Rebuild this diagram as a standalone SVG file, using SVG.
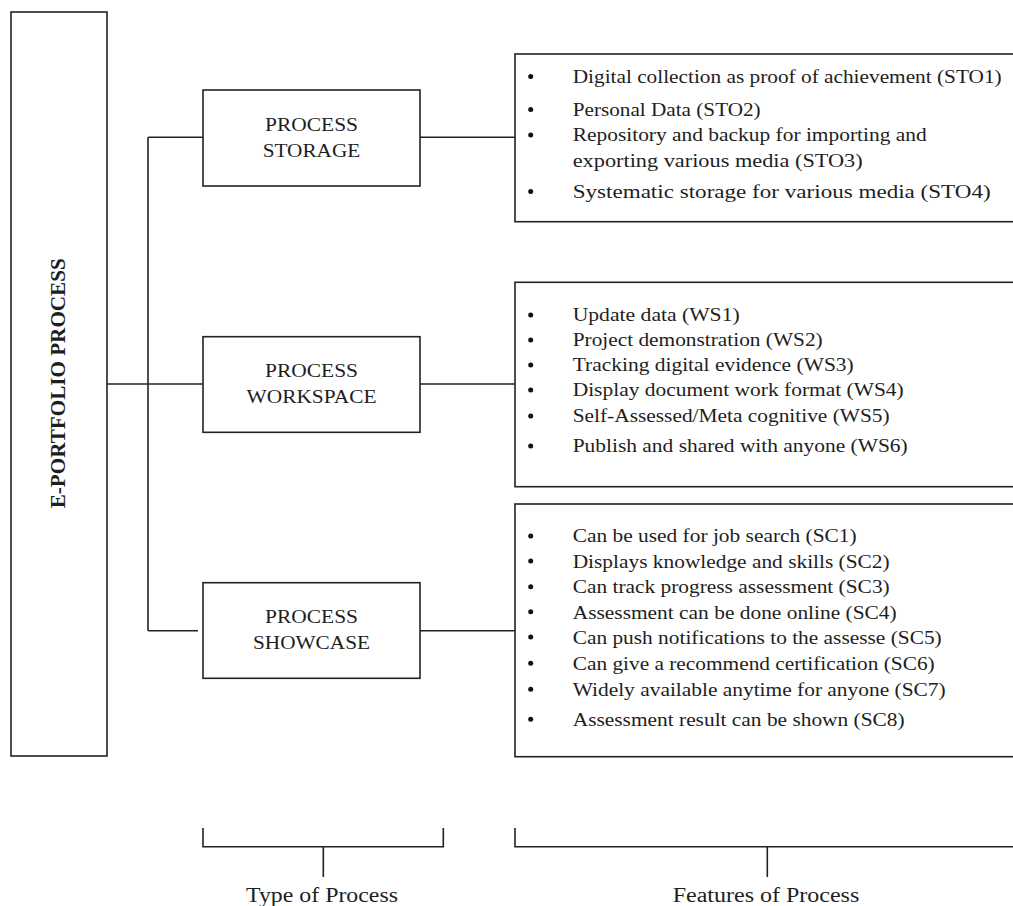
<svg xmlns="http://www.w3.org/2000/svg" width="1013" height="906" viewBox="0 0 1013 906">
  <style>
    .box { fill: #ffffff; stroke: #222222; stroke-width: 1.6; }
    .ln { fill: none; stroke: #222222; stroke-width: 1.6; }
    .lbl { font-family: "Liberation Serif", "DejaVu Serif", serif; font-size: 19px; fill: #1e1e1e; text-anchor: middle; }
    .li { font-family: "Liberation Serif", "DejaVu Serif", serif; font-size: 18px; fill: #1e1e1e; }
    .main { font-family: "Liberation Serif", "DejaVu Serif", serif; font-size: 20px; font-weight: bold; fill: #1e1e1e; text-anchor: middle; }
    .cap { font-family: "Liberation Serif", "DejaVu Serif", serif; font-size: 20px; fill: #1e1e1e; }
    .dot { fill: #111111; }
  </style>

  <g id="connectors">
    <path class="ln" d="M107,384 H203"/>
    <path class="ln" d="M148,137.3 V630.7"/>
    <path class="ln" d="M148,137.3 H203"/>
    <path class="ln" d="M148,630.7 H198"/>
    <path class="ln" d="M420,137.3 H515"/>
    <path class="ln" d="M420,384 H515"/>
    <path class="ln" d="M420,630.7 H515"/>
  </g>

  <g id="node-eportfolio">
    <rect class="box" x="11" y="12" width="96" height="744"/>
    <text class="main" transform="translate(64.5,383.3) rotate(-90)" x="0" y="0" textLength="250" lengthAdjust="spacingAndGlyphs">E-PORTFOLIO PROCESS</text>
  </g>

  <g id="node-storage">
    <rect class="box" x="203" y="90" width="217" height="96"/>
    <text class="lbl" x="311.5" y="131" textLength="93" lengthAdjust="spacingAndGlyphs">PROCESS</text>
    <text class="lbl" x="311.5" y="157" textLength="97.6" lengthAdjust="spacingAndGlyphs">STORAGE</text>
  </g>

  <g id="node-workspace">
    <rect class="box" x="203" y="336.7" width="217" height="95.6"/>
    <text class="lbl" x="311.5" y="377.3" textLength="93" lengthAdjust="spacingAndGlyphs">PROCESS</text>
    <text class="lbl" x="311.5" y="402.7" textLength="130" lengthAdjust="spacingAndGlyphs">WORKSPACE</text>
  </g>

  <g id="node-showcase">
    <rect class="box" x="203" y="582.7" width="217" height="95.6"/>
    <text class="lbl" x="311.5" y="623.3" textLength="93" lengthAdjust="spacingAndGlyphs">PROCESS</text>
    <text class="lbl" x="311.5" y="649.3" textLength="117" lengthAdjust="spacingAndGlyphs">SHOWCASE</text>
  </g>

  <g id="node-storage-features">
    <rect class="box" x="515" y="54" width="520" height="167.7"/>
    <circle class="dot" cx="530.7" cy="76.5" r="2.5"/>
    <circle class="dot" cx="530.7" cy="109.5" r="2.5"/>
    <circle class="dot" cx="530.7" cy="135" r="2.5"/>
    <circle class="dot" cx="530.7" cy="191.5" r="2.5"/>
    <text class="li" x="572.7" y="83" textLength="429" lengthAdjust="spacingAndGlyphs">Digital collection as proof of achievement (STO1)</text>
    <text class="li" x="572.7" y="115.5" textLength="188" lengthAdjust="spacingAndGlyphs">Personal Data (STO2)</text>
    <text class="li" x="572.7" y="141" textLength="354" lengthAdjust="spacingAndGlyphs">Repository and backup for importing and</text>
    <text class="li" x="572.7" y="167" textLength="290" lengthAdjust="spacingAndGlyphs">exporting various media (STO3)</text>
    <text class="li" x="572.7" y="197.5" textLength="418" lengthAdjust="spacingAndGlyphs">Systematic storage for various media (STO4)</text>
  </g>

  <g id="node-workspace-features">
    <rect class="box" x="515" y="282.3" width="520" height="204.4"/>
    <circle class="dot" cx="530.7" cy="315" r="2.5"/>
    <circle class="dot" cx="530.7" cy="340" r="2.5"/>
    <circle class="dot" cx="530.7" cy="365" r="2.5"/>
    <circle class="dot" cx="530.7" cy="390" r="2.5"/>
    <circle class="dot" cx="530.7" cy="416" r="2.5"/>
    <circle class="dot" cx="530.7" cy="446" r="2.5"/>
    <text class="li" x="572.7" y="321" textLength="167" lengthAdjust="spacingAndGlyphs">Update data (WS1)</text>
    <text class="li" x="572.7" y="346" textLength="250" lengthAdjust="spacingAndGlyphs">Project demonstration (WS2)</text>
    <text class="li" x="572.7" y="371" textLength="281" lengthAdjust="spacingAndGlyphs">Tracking digital evidence (WS3)</text>
    <text class="li" x="572.7" y="396" textLength="331" lengthAdjust="spacingAndGlyphs">Display document work format (WS4)</text>
    <text class="li" x="572.7" y="422" textLength="317" lengthAdjust="spacingAndGlyphs">Self-Assessed/Meta cognitive (WS5)</text>
    <text class="li" x="572.7" y="452" textLength="335" lengthAdjust="spacingAndGlyphs">Publish and shared with anyone (WS6)</text>
  </g>

  <g id="node-showcase-features">
    <rect class="box" x="515" y="504" width="520" height="252.7"/>
    <circle class="dot" cx="530.7" cy="536" r="2.5"/>
    <circle class="dot" cx="530.7" cy="561" r="2.5"/>
    <circle class="dot" cx="530.7" cy="586.7" r="2.5"/>
    <circle class="dot" cx="530.7" cy="611.7" r="2.5"/>
    <circle class="dot" cx="530.7" cy="637" r="2.5"/>
    <circle class="dot" cx="530.7" cy="663.3" r="2.5"/>
    <circle class="dot" cx="530.7" cy="689.3" r="2.5"/>
    <circle class="dot" cx="530.7" cy="719.3" r="2.5"/>
    <text class="li" x="572.7" y="542" textLength="284" lengthAdjust="spacingAndGlyphs">Can be used for job search (SC1)</text>
    <text class="li" x="572.7" y="567.5" textLength="317" lengthAdjust="spacingAndGlyphs">Displays knowledge and skills (SC2)</text>
    <text class="li" x="572.7" y="593" textLength="317" lengthAdjust="spacingAndGlyphs">Can track progress assessment (SC3)</text>
    <text class="li" x="572.7" y="618.5" textLength="324" lengthAdjust="spacingAndGlyphs">Assessment can be done online (SC4)</text>
    <text class="li" x="572.7" y="644" textLength="369" lengthAdjust="spacingAndGlyphs">Can push notifications to the assesse (SC5)</text>
    <text class="li" x="572.7" y="670" textLength="362" lengthAdjust="spacingAndGlyphs">Can give a recommend certification (SC6)</text>
    <text class="li" x="572.7" y="696" textLength="373" lengthAdjust="spacingAndGlyphs">Widely available anytime for anyone (SC7)</text>
    <text class="li" x="572.7" y="726" textLength="332" lengthAdjust="spacingAndGlyphs">Assessment result can be shown (SC8)</text>
  </g>

  <g id="brace-type">
    <path class="ln" d="M203,828 V846.7 H443.3 V828"/>
    <path class="ln" d="M323.3,846.7 V877"/>
    <text class="cap" x="246" y="902" textLength="152" lengthAdjust="spacingAndGlyphs">Type of Process</text>
  </g>

  <g id="brace-features">
    <path class="ln" d="M515,828 V846.7 H1013"/>
    <path class="ln" d="M767.3,846.7 V877"/>
    <text class="cap" x="672.7" y="902" textLength="186.6" lengthAdjust="spacingAndGlyphs">Features of Process</text>
  </g>
</svg>
